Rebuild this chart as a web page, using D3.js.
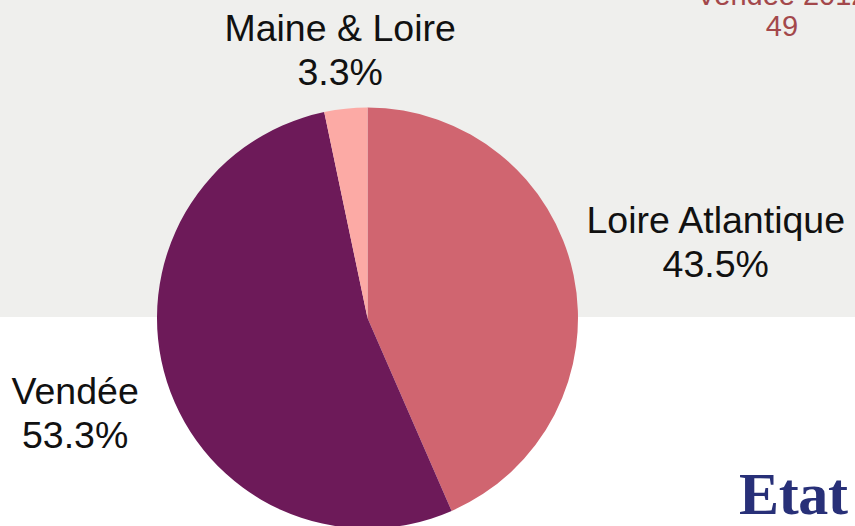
<!DOCTYPE html>
<html>
<head>
<meta charset="utf-8">
<script src="https://cdn.jsdelivr.net/npm/d3@7"></script>
<style>
  body { margin: 0; background: #ffffff; }
  svg { display: block; font-family: "Liberation Sans", Arial, sans-serif; }
</style>
</head>
<body>
<div class="viz-container"></div>
<script>
// data
let departements = ["Loire Atlantique", "Vendée", "Maine & Loire"];
let shares = [43.5, 53.3, 3.3];
let sliceColors = ["#d06570", "#6d1a59", "#fcaaa5"];
let cornerTitle = ["Vendée 2012", "49"];
let brand = "Etat";

let width = 855, height = 526;
let cx = 367.5, cy = 318, radius = 210.5;

let viz = d3.select(".viz-container")
  .append("svg")
    .attr("width", width)
    .attr("height", height);

// grey band behind the upper part
viz.append("rect")
  .attr("x", 0).attr("y", 0)
  .attr("width", width).attr("height", 317)
  .attr("fill", "#efefed");

let rows = departements.map((d, i) => ({name: d, value: shares[i], color: sliceColors[i]}));

let pie = d3.pie().sort(null).value(d => d.value);
let arc = d3.arc().innerRadius(0).outerRadius(radius);
let arcs = pie(rows);

let chart = viz.append("g").attr("transform", "translate(" + cx + "," + cy + ")");

chart.selectAll(".slice").data(arcs).enter()
  .append("path")
    .attr("class", "slice")
    .attr("d", arc)
    .attr("fill", d => d.data.color);

// labels sit outside the pie along the middle angle of each slice
let pad = 16;
let lineGap = 44;
// small hand adjustments so the blocks land where the original put them
let nudge = [[0, -21], [-16, 13], [8, 0]];

let labels = chart.selectAll(".label").data(arcs).enter()
  .append("g")
    .attr("class", "label");

labels.append("text")
  .attr("text-anchor", "middle")
  .attr("font-size", 37.5)
  .attr("fill", "#111")
  .selectAll("tspan")
  .data(d => [d.data.name, d3.format(".1f")(d.data.value) + "%"])
  .enter()
  .append("tspan")
    .attr("x", 0)
    .attr("y", (t, i) => i * lineGap)
    .text(t => t);

labels.each(function(d, i) {
  let g = d3.select(this);
  let box = this.getBBox();
  let a = (d.startAngle + d.endAngle) / 2;
  let s = Math.sin(a), c = -Math.cos(a);
  let px = (radius + pad) * s + s * box.width / 2;
  let py = (radius + pad) * c + c * box.height / 2;
  let bx = box.x + box.width / 2, by = box.y + box.height / 2;
  g.attr("transform", "translate(" + (px - bx + nudge[i][0]) + "," + (py - by + nudge[i][1]) + ")");
});

// corner title, cut by the top edge like in the picture
viz.append("text")
  .attr("text-anchor", "middle")
  .attr("font-size", 29)
  .attr("fill", "#a3484b")
  .selectAll("tspan")
  .data(cornerTitle)
  .enter()
  .append("tspan")
    .attr("x", 782)
    .attr("y", (t, i) => 5 + i * 31)
    .text(t => t);

viz.append("text")
  .attr("x", 739)
  .attr("y", 514)
  .attr("font-family", "'Liberation Serif', 'Times New Roman', serif")
  .attr("font-weight", "bold")
  .attr("font-size", 60)
  .attr("fill", "#283078")
  .attr("textLength", 109)
  .text(brand);
</script>
</body>
</html>
